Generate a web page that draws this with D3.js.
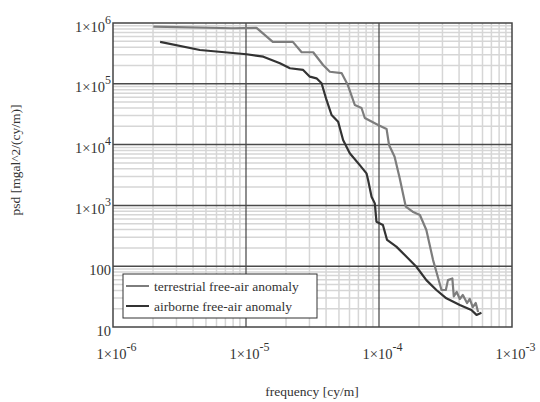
<!DOCTYPE html>
<html>
<head>
<meta charset="utf-8">
<script src="https://cdn.jsdelivr.net/npm/d3@7"></script>
<style>
  body { margin: 0; background: #fff; }
  svg, svg text { font-family: "Liberation Serif", "DejaVu Serif", serif; }
</style>
</head>
<body>
<div id="chart"></div>
<script>
// terrestrial free-air anomaly (grey)
var terrFreq = [2.01e-6, 7.98e-6, 1.20e-5, 1.59e-5, 2.25e-5, 2.62e-5, 3.20e-5, 3.80e-5, 4.27e-5, 5.23e-5,
  5.83e-5, 6.58e-5, 7.39e-5, 7.82e-5, 9.85e-5, 1.14e-4, 1.19e-4, 1.31e-4, 1.43e-4, 1.59e-4,
  1.79e-4, 2.03e-4, 2.27e-4, 2.55e-4, 2.70e-4, 2.95e-4, 3.18e-4, 3.30e-4, 3.56e-4, 3.65e-4,
  3.84e-4, 4.05e-4, 4.27e-4, 4.59e-4, 4.81e-4, 5.07e-4, 5.34e-4, 5.56e-4];
var terrPsd = [8.7e5, 8.2e5, 8.3e5, 4.9e5, 4.9e5, 3.3e5, 3.3e5, 2.04e5, 1.58e5, 1.5e5,
  9.55e4, 4.48e4, 4.0e4, 2.74e4, 2.1e4, 1.81e4, 9.85e3, 6.3e3, 2.82e3, 953,
  787, 695, 394, 126, 81, 40.6, 40.6, 59, 63, 32,
  37.7, 28.9, 33.6, 24.8, 28.9, 21.3, 24.8, 17.7];

// airborne free-air anomaly (dark)
var airFreq = [2.26e-6, 4.5e-6, 1.01e-5, 1.35e-5, 1.80e-5, 2.14e-5, 2.69e-5, 3.02e-5, 3.39e-5, 3.70e-5,
  4.03e-5, 4.40e-5, 4.93e-5, 5.37e-5, 6.03e-5, 7.17e-5, 8.05e-5, 8.28e-5, 8.79e-5, 9.3e-5,
  9.57e-5, 1.07e-4, 1.15e-4, 1.35e-4, 1.61e-4, 1.91e-4, 2.27e-4, 2.70e-4, 3.21e-4, 4.05e-4,
  4.95e-4, 5.41e-4, 5.89e-4];
var airPsd = [4.9e5, 3.6e5, 3.06e5, 2.79e5, 2.17e5, 1.8e5, 1.69e5, 1.31e5, 1.23e5, 1.02e5,
  5.42e4, 3.07e4, 2.38e4, 1.19e4, 7.2e3, 4.6e3, 3.37e3, 2.62e3, 1.39e3, 1.08e3,
  540, 476, 270, 210, 143, 98, 59, 40.6, 29.6, 23,
  19, 15.8, 17.2];

var xTicks = [1e-6, 1e-5, 1e-4, 1e-3];
var xTickExp = ["-6", "-5", "-4", "-3"];
var yTicks = [10, 100, 1e3, 1e4, 1e5, 1e6];
var yTickBase = ["10", "100", "1\u00d710", "1\u00d710", "1\u00d710", "1\u00d710"];
var yTickExp = ["", "", "3", "4", "5", "6"];

var seriesNames = ["terrestrial free-air anomaly", "airborne free-air anomaly"];
var seriesColors = ["#7d7d7d", "#333333"];

var W = 540, H = 402;
var margin = {top: 23, right: 28, bottom: 75, left: 113};
var width = W - margin.left - margin.right,
    height = H - margin.top - margin.bottom;

var svg = d3.select("#chart").append("svg")
  .attr("width", W)
  .attr("height", H);

var g = svg.append("g")
  .attr("transform", "translate(" + margin.left + "," + margin.top + ")");

var x = d3.scaleLog().domain([1e-6, 1e-3]).range([0, width]);
var y = d3.scaleLog().domain([10, 1e6]).range([height, 0]);

// minor grid
var xMinor = [], yMinor = [];
for (var e = -6; e < -3; e++) for (var k = 2; k < 10; k++) xMinor.push(k * Math.pow(10, e));
for (var e2 = 1; e2 < 6; e2++) for (var k2 = 2; k2 < 10; k2++) yMinor.push(k2 * Math.pow(10, e2));

g.selectAll(".xminor").data(xMinor).enter().append("line")
  .attr("x1", d => x(d)).attr("x2", d => x(d))
  .attr("y1", 0).attr("y2", height)
  .attr("stroke", "#d6d6d6").attr("stroke-width", 1.5);
g.selectAll(".yminor").data(yMinor).enter().append("line")
  .attr("x1", 0).attr("x2", width)
  .attr("y1", d => y(d)).attr("y2", d => y(d))
  .attr("stroke", "#d6d6d6").attr("stroke-width", 1.5);

// major grid
g.selectAll(".xmajor").data(xTicks.slice(1, 3)).enter().append("line")
  .attr("x1", d => x(d)).attr("x2", d => x(d))
  .attr("y1", 0).attr("y2", height)
  .attr("stroke", "#444").attr("stroke-width", 1.2);
g.selectAll(".ymajor").data(yTicks.slice(1, 5)).enter().append("line")
  .attr("x1", 0).attr("x2", width)
  .attr("y1", d => y(d)).attr("y2", d => y(d))
  .attr("stroke", "#4a4a4a").attr("stroke-width", 1.5);

// frame
g.append("rect")
  .attr("width", width).attr("height", height)
  .attr("fill", "none").attr("stroke", "#444").attr("stroke-width", 1.5);

// lines
var line = d3.line()
  .x(d => x(d[0]))
  .y(d => y(d[1]));

var series = [
  d3.zip(terrFreq, terrPsd),
  d3.zip(airFreq, airPsd)
];

g.selectAll(".series").data(series).enter().append("path")
  .attr("d", line)
  .attr("fill", "none")
  .attr("stroke", (d, i) => seriesColors[i])
  .attr("stroke-width", 2.2)
  .attr("stroke-linejoin", "round");

// x axis labels
var xAxis = g.append("g")
  .attr("transform", "translate(0," + height + ")")
  .call(d3.axisBottom(x).tickValues(xTicks).tickSize(0).tickFormat(""));
xAxis.attr("font-family", null).attr("font-size", null);
xAxis.select(".domain").remove();
xAxis.selectAll(".tick").each(function(d, i) {
  var t = d3.select(this).append("text")
    .attr("x", 3).attr("y", 32)
    .attr("text-anchor", "middle")
    .attr("fill", "#333")
    .style("font-size", "14.5px");
  t.append("tspan").text("1\u00d710");
  t.append("tspan").attr("dy", -8).style("font-size", "12px").text(xTickExp[i]);
});

// y axis labels
var yAxis = g.append("g")
  .call(d3.axisLeft(y).tickValues(yTicks).tickSize(0).tickFormat(""));
yAxis.attr("font-family", null).attr("font-size", null);
yAxis.select(".domain").remove();
yAxis.selectAll(".tick").each(function(d, i) {
  var t = d3.select(this).append("text")
    .attr("x", -2).attr("y", 8)
    .attr("text-anchor", "end")
    .attr("fill", "#333")
    .style("font-size", "14.5px");
  t.append("tspan").text(yTickBase[i]);
  if (yTickExp[i]) t.append("tspan").attr("dy", -8).style("font-size", "12px").text(yTickExp[i]);
});

// axis titles
svg.append("text")
  .attr("x", 312).attr("y", 396)
  .attr("text-anchor", "middle")
  .attr("fill", "#333")
  .style("font-size", "13.5px")
  .text("frequency [cy/m]");

svg.append("text")
  .attr("transform", "translate(20,160) rotate(-90)")
  .attr("text-anchor", "middle")
  .attr("fill", "#333")
  .style("font-size", "13.5px")
  .text("psd [mgal^2/(cy/m)]");

// legend
var legend = svg.append("g").attr("transform", "translate(123,274)");
legend.append("rect")
  .attr("width", 194).attr("height", 44)
  .attr("fill", "#fff").attr("stroke", "#333").attr("stroke-width", 1);
var items = legend.selectAll(".item").data(seriesNames).enter().append("g")
  .attr("transform", (d, i) => "translate(0," + (12 + i * 20) + ")");
items.append("line")
  .attr("x1", 3).attr("x2", 26)
  .attr("stroke", (d, i) => seriesColors[i]).attr("stroke-width", 2);
items.append("text")
  .attr("x", 31).attr("y", 4.5)
  .attr("fill", "#333")
  .style("font-size", "13.5px")
  .text(d => d);
</script>
</body>
</html>
